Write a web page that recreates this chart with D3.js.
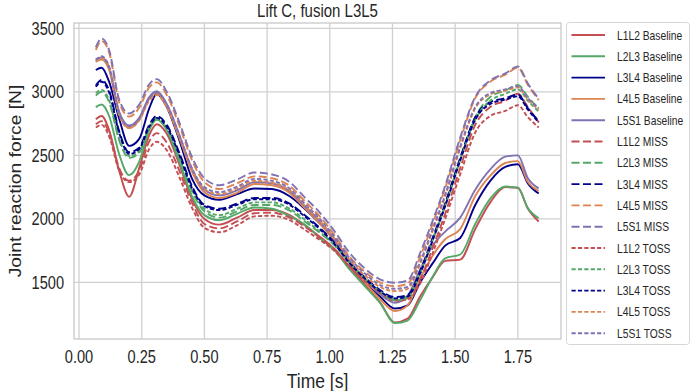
<!DOCTYPE html>
<html>
<head>
<meta charset="utf-8">
<script src="https://cdn.jsdelivr.net/npm/d3@7"></script>
<style>
  body { margin: 0; background: #fff; }
  text { font-family: "Liberation Sans", Arial, sans-serif; fill: #262626; }
</style>
</head>
<body>
<svg class="Chart__SVG" width="692" height="391"></svg>
<script>
// time points [s]
const time = [0.067, 0.09, 0.12, 0.16, 0.20, 0.24, 0.28, 0.31, 0.35, 0.40, 0.45, 0.50, 0.56, 0.63, 0.70, 0.77, 0.84, 0.90, 0.96, 1.02, 1.08, 1.14, 1.20, 1.26, 1.31, 1.36, 1.41, 1.46, 1.52, 1.58, 1.64, 1.70, 1.75, 1.79, 1.833];

// Baseline
const l1l2Baseline = [2785, 2810, 2700, 2380, 2175, 2400, 2660, 2745, 2670, 2430, 2160, 2000, 1955, 2010, 2070, 2070, 2030, 1950, 1860, 1760, 1620, 1480, 1345, 1185, 1215, 1390, 1540, 1670, 1680, 1920, 2130, 2250, 2245, 2080, 1980];
const l2l3Baseline = [2880, 2900, 2810, 2510, 2345, 2450, 2700, 2780, 2700, 2450, 2180, 2030, 1990, 2040, 2090, 2080, 2020, 1955, 1850, 1750, 1600, 1470, 1340, 1180, 1200, 1360, 1545, 1690, 1720, 1960, 2160, 2255, 2245, 2085, 2005];
const l3l4Baseline = [3172, 3190, 3080, 2790, 2575, 2630, 2870, 2985, 2880, 2620, 2320, 2185, 2150, 2195, 2240, 2235, 2178, 2080, 1965, 1835, 1660, 1500, 1390, 1295, 1320, 1500, 1650, 1790, 1850, 2110, 2300, 2410, 2430, 2280, 2200];
const l4l5Baseline = [3240, 3255, 3175, 2830, 2715, 2780, 2945, 2990, 2885, 2640, 2375, 2210, 2165, 2205, 2275, 2265, 2205, 2085, 1965, 1820, 1650, 1500, 1370, 1275, 1320, 1530, 1710, 1840, 1920, 2180, 2340, 2440, 2455, 2290, 2220];
const l5s1Baseline = [3255, 3270, 3190, 2845, 2735, 2795, 2960, 3005, 2905, 2660, 2395, 2230, 2185, 2225, 2290, 2280, 2220, 2100, 1980, 1835, 1665, 1530, 1410, 1340, 1395, 1600, 1790, 1900, 2010, 2230, 2390, 2490, 2500, 2320, 2240];

// MISS
const l1l2Miss = [2745, 2770, 2680, 2400, 2300, 2380, 2610, 2675, 2600, 2380, 2130, 1960, 1925, 1980, 2045, 2050, 2010, 1940, 1855, 1760, 1630, 1520, 1425, 1360, 1375, 1520, 1770, 2040, 2400, 2740, 2880, 2930, 2985, 2880, 2760];
const l2l3Miss = [2970, 3000, 2920, 2620, 2480, 2520, 2720, 2790, 2710, 2480, 2220, 2060, 2010, 2060, 2110, 2110, 2065, 1980, 1890, 1790, 1650, 1530, 1430, 1370, 1390, 1580, 1840, 2110, 2470, 2800, 2960, 3010, 3055, 2960, 2870];
const l3l4Miss = [3050, 3095, 3010, 2690, 2525, 2560, 2740, 2810, 2740, 2520, 2260, 2110, 2080, 2120, 2165, 2165, 2120, 2030, 1930, 1810, 1660, 1540, 1440, 1385, 1400, 1590, 1850, 2120, 2480, 2800, 2920, 2950, 2980, 2870, 2770];
const l4l5Miss = [3330, 3400, 3310, 2920, 2805, 2875, 3035, 3075, 2975, 2735, 2465, 2290, 2235, 2280, 2335, 2320, 2260, 2140, 2020, 1870, 1700, 1585, 1500, 1470, 1490, 1700, 1960, 2240, 2620, 2950, 3080, 3135, 3190, 3055, 2935];
const l5s1Miss = [3350, 3420, 3330, 2940, 2830, 2900, 3060, 3100, 3000, 2760, 2490, 2320, 2265, 2310, 2365, 2350, 2290, 2170, 2050, 1900, 1730, 1610, 1525, 1498, 1515, 1730, 1985, 2260, 2640, 2960, 3090, 3145, 3200, 3065, 2945];

// TOSS
const l1l2Toss = [2720, 2740, 2650, 2380, 2290, 2350, 2550, 2608, 2540, 2330, 2090, 1930, 1895, 1950, 2020, 2025, 1990, 1915, 1835, 1745, 1620, 1510, 1420, 1355, 1365, 1490, 1730, 2000, 2350, 2680, 2810, 2850, 2895, 2800, 2720];
const l2l3Toss = [2990, 3015, 2935, 2630, 2495, 2530, 2725, 2790, 2715, 2490, 2230, 2080, 2030, 2080, 2130, 2130, 2080, 1995, 1900, 1795, 1655, 1530, 1430, 1360, 1380, 1570, 1830, 2100, 2460, 2780, 2930, 2985, 3020, 2930, 2845];
const l3l4Toss = [3040, 3080, 2995, 2680, 2510, 2550, 2725, 2795, 2725, 2505, 2245, 2100, 2070, 2110, 2155, 2155, 2110, 2020, 1920, 1800, 1650, 1530, 1430, 1375, 1390, 1570, 1830, 2100, 2460, 2780, 2905, 2940, 2965, 2860, 2760];
const l4l5Toss = [3235, 3265, 3185, 2815, 2715, 2775, 2930, 2975, 2880, 2640, 2385, 2235, 2195, 2240, 2300, 2285, 2225, 2105, 1985, 1840, 1675, 1555, 1465, 1432, 1450, 1645, 1905, 2175, 2555, 2870, 2980, 3010, 3035, 2940, 2860];
const l5s1Toss = [3250, 3280, 3200, 2830, 2730, 2790, 2950, 2995, 2900, 2660, 2400, 2250, 2210, 2255, 2315, 2300, 2240, 2120, 2000, 1855, 1690, 1570, 1480, 1450, 1465, 1660, 1920, 2190, 2570, 2880, 2990, 3020, 3045, 2950, 2870];

const levels = ["L1L2", "L2L3", "L3L4", "L4L5", "L5S1"];
const conditions = ["Baseline", "MISS", "TOSS"];
const colors = ["#c44e52", "#55a868", "#00008b", "#dd8452", "#8172b3"];
const dashes = [null, "8,3.5", "4.2,2.2"];

const xTicks = [0, 0.25, 0.5, 0.75, 1.0, 1.25, 1.5, 1.75];
const yTicks = [1500, 2000, 2500, 3000, 3500];

const valueArrays = [
  [l1l2Baseline, l2l3Baseline, l3l4Baseline, l4l5Baseline, l5s1Baseline],
  [l1l2Miss, l2l3Miss, l3l4Miss, l4l5Miss, l5s1Miss],
  [l1l2Toss, l2l3Toss, l3l4Toss, l4l5Toss, l5s1Toss]
];

// build series list (legend order)
const series = [];
conditions.forEach((c, ci) => {
  levels.forEach((l, li) => {
    series.push({
      name: l + " " + c,
      color: colors[li],
      dash: dashes[ci],
      values: valueArrays[ci][li].map((v, i) => ({ t: time[i], v: v }))
    });
  });
});

const width = 692, height = 391;
const margin = { top: 23, right: 131, bottom: 52, left: 74 };
const stretch = 1.22; // text in the picture is taller than wide

const svg = d3.select(".Chart__SVG");

const x = d3.scaleLinear()
  .domain([-0.02, 1.922])
  .range([margin.left, width - margin.right]);

const y = d3.scaleLinear()
  .domain([1055, 3542])
  .range([height - margin.bottom, margin.top]);

// grid
svg.append("g")
  .selectAll("line")
  .data(xTicks)
  .enter()
  .append("line")
  .attr("x1", d => x(d)).attr("x2", d => x(d))
  .attr("y1", margin.top).attr("y2", height - margin.bottom)
  .attr("stroke", "#d0d0d0")
  .attr("stroke-width", 1.3);

svg.append("g")
  .selectAll("line")
  .data(yTicks)
  .enter()
  .append("line")
  .attr("x1", margin.left).attr("x2", width - margin.right)
  .attr("y1", d => y(d)).attr("y2", d => y(d))
  .attr("stroke", "#d0d0d0")
  .attr("stroke-width", 1.3);

// tick labels (drawn by hand so they can be stretched)
const fmtX = d3.format(".2f");
svg.append("g")
  .selectAll("text")
  .data(xTicks)
  .enter()
  .append("text")
  .attr("transform", d => `translate(${x(d)},363) scale(1,${stretch})`)
  .attr("text-anchor", "middle")
  .style("font-size", "14.6px")
  .text(d => fmtX(d));

svg.append("g")
  .selectAll("text")
  .data(yTicks)
  .enter()
  .append("text")
  .attr("transform", d => `translate(64,${y(d) + 6.4}) scale(1,${stretch})`)
  .attr("text-anchor", "end")
  .style("font-size", "14.6px")
  .text(d => d);

// clip
svg.append("clipPath").attr("id", "plotClip")
  .append("rect")
  .attr("x", margin.left).attr("y", margin.top)
  .attr("width", width - margin.left - margin.right)
  .attr("height", height - margin.top - margin.bottom);

const line = d3.line()
  .x(d => x(d.t))
  .y(d => y(d.v))
  .curve(d3.curveMonotoneX);

svg.append("g")
  .attr("clip-path", "url(#plotClip)")
  .selectAll("path")
  .data(series)
  .enter()
  .append("path")
  .attr("d", d => line(d.values))
  .attr("fill", "none")
  .attr("stroke", d => d.color)
  .attr("stroke-width", 1.9)
  .attr("stroke-dasharray", d => d.dash);

// frame
svg.append("rect")
  .attr("x", margin.left).attr("y", margin.top)
  .attr("width", width - margin.left - margin.right)
  .attr("height", height - margin.top - margin.bottom)
  .attr("fill", "none")
  .attr("stroke", "#cccccc")
  .attr("stroke-width", 1.4);

// titles
svg.append("text")
  .attr("transform", `translate(${(margin.left + width - margin.right) / 2},16.5) scale(1,${stretch})`)
  .attr("text-anchor", "middle")
  .style("font-size", "15px")
  .text("Lift C, fusion L3L5");

svg.append("text")
  .attr("transform", `translate(${(margin.left + width - margin.right) / 2},387.5) scale(1,1.15)`)
  .attr("text-anchor", "middle")
  .style("font-size", "17.5px")
  .text("Time [s]");

svg.append("text")
  .attr("transform", `translate(21,${(margin.top + height - margin.bottom) / 2}) rotate(-90) scale(${stretch},1)`)
  .attr("text-anchor", "middle")
  .style("font-size", "15.8px")
  .text("Joint reaction force [N]");

// legend
const legend = svg.append("g");
legend.append("rect")
  .attr("x", 566.5).attr("y", 22.5)
  .attr("width", 123).attr("height", 322)
  .attr("rx", 3)
  .attr("fill", "#fff")
  .attr("stroke", "#d6d6d6")
  .attr("stroke-width", 1);

const rows = legend.selectAll("g.row")
  .data(series)
  .enter()
  .append("g")
  .attr("class", "row")
  .attr("transform", (d, i) => `translate(0,${35 + i * 21.3})`);

rows.append("line")
  .attr("x1", 571.5).attr("x2", 605)
  .attr("y1", 0).attr("y2", 0)
  .attr("stroke", d => d.color)
  .attr("stroke-width", 1.9)
  .attr("stroke-dasharray", d => d.dash);

rows.append("text")
  .attr("transform", `translate(617,4.5) scale(1,${stretch})`)
  .style("font-size", "10.3px")
  .text(d => d.name);
</script>
</body>
</html>
